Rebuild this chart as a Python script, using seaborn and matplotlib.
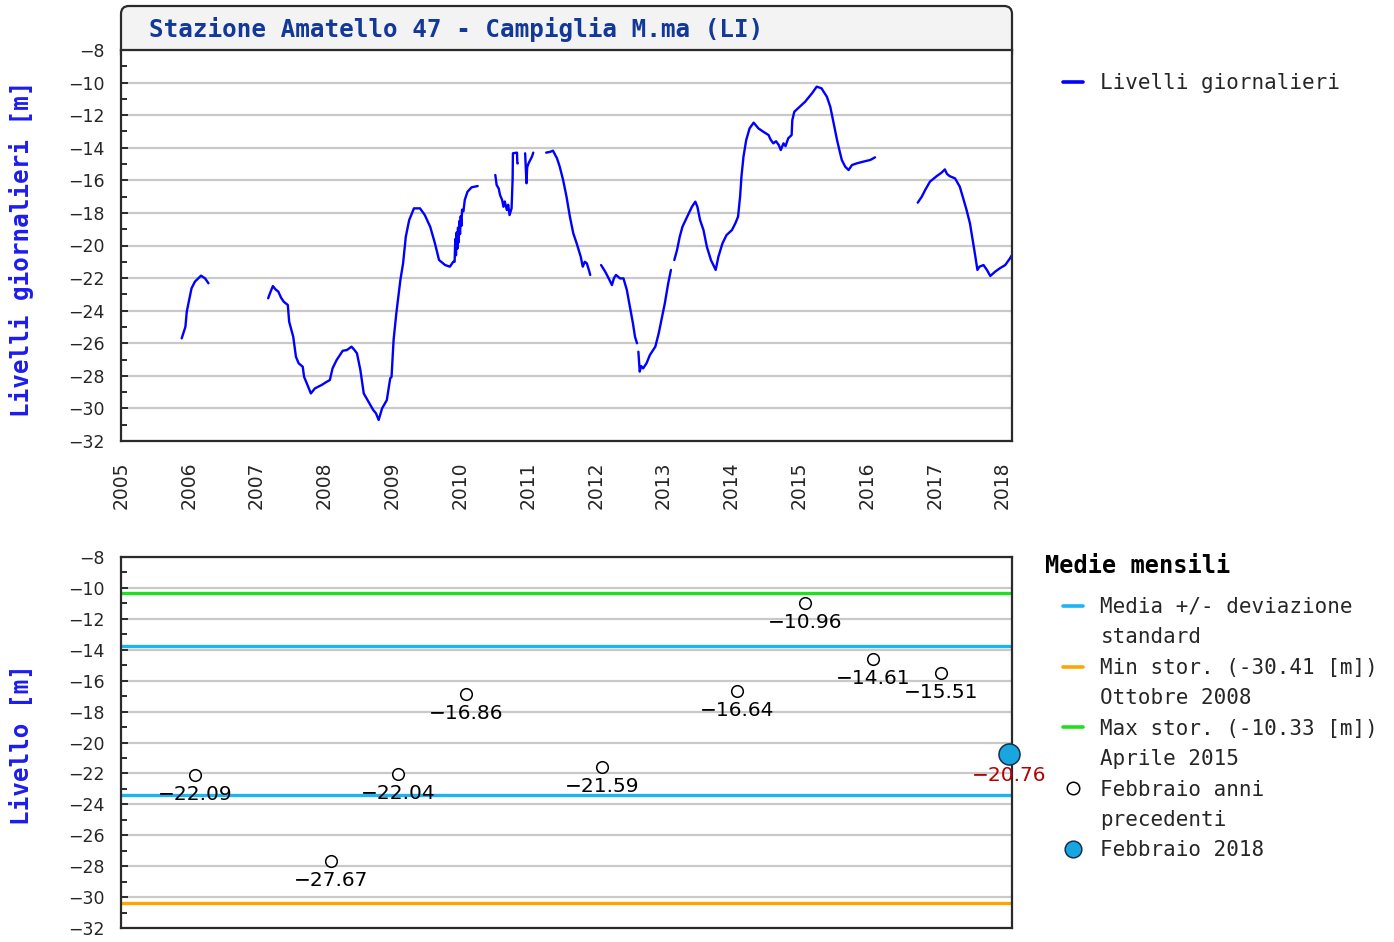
import matplotlib
matplotlib.use("Agg")
import matplotlib.pyplot as plt
import numpy as np
import pandas as pd
import seaborn as sns
from matplotlib.patches import FancyBboxPatch
from matplotlib.lines import Line2D
from matplotlib.ticker import MultipleLocator
from matplotlib.transforms import IdentityTransform

# ---------------------------------------------------------------- data
# Daily groundwater levels [m], split into continuous stretches (decimal years)
t1 = [2005.895, 2005.95, 2005.97, 2006.01, 2006.04, 2006.09, 2006.18, 2006.24, 2006.29]
l1 = [-25.70, -24.99, -24.06, -23.24, -22.63, -22.22, -21.85, -22.02, -22.32]

t2 = [2007.17, 2007.20, 2007.24, 2007.28, 2007.32, 2007.36, 2007.40, 2007.46, 2007.48,
      2007.54, 2007.58, 2007.62, 2007.68, 2007.70, 2007.74, 2007.80, 2007.86, 2007.96,
      2008.02, 2008.08, 2008.12, 2008.18, 2008.27, 2008.33, 2008.40, 2008.44, 2008.48,
      2008.53, 2008.58, 2008.65, 2008.72, 2008.76, 2008.80, 2008.85, 2008.92, 2008.97,
      2008.99, 2009.02, 2009.06, 2009.12, 2009.16, 2009.20, 2009.25, 2009.32, 2009.41,
      2009.48, 2009.56, 2009.63, 2009.69, 2009.78, 2009.85, 2009.90, 2009.92, 2009.93,
      2009.94, 2009.95, 2009.96, 2009.97, 2009.98, 2009.99, 2010.00, 2010.01, 2010.02,
      2010.03, 2010.05, 2010.07, 2010.11, 2010.17, 2010.26]
l2 = [-23.24, -22.90, -22.49, -22.70, -22.83, -23.20, -23.45, -23.65, -24.68,
      -25.60, -26.83, -27.23, -27.44, -28.06, -28.46, -29.08, -28.77, -28.56,
      -28.40, -28.26, -27.54, -27.03, -26.46, -26.42, -26.21, -26.40, -26.62,
      -27.64, -29.08, -29.59, -30.10, -30.30, -30.71, -30.00, -29.49, -28.16,
      -28.06, -25.80, -24.17, -22.12, -21.10, -19.46, -18.44, -17.72, -17.72,
      -18.13, -18.85, -19.87, -20.89, -21.20, -21.30, -21.00, -21.00, -19.60,
      -20.60, -19.20, -20.20, -18.90, -19.80, -18.50, -19.30, -18.20, -18.80,
      -17.80, -17.90, -17.20, -16.70, -16.43, -16.35]

t3 = [2010.52, 2010.54, 2010.57, 2010.59, 2010.62, 2010.64, 2010.66, 2010.69, 2010.71,
      2010.73, 2010.76, 2010.775, 2010.78, 2010.84, 2010.845, 2010.85]
l3 = [-15.67, -16.29, -16.50, -16.90, -17.20, -17.62, -17.30, -17.82, -17.50,
      -18.13, -17.72, -15.98, -14.34, -14.30, -14.96, -14.96]

t4 = [2010.96, 2010.98, 2010.99, 2011.01, 2011.06, 2011.08]
l4 = [-14.34, -16.18, -15.20, -14.96, -14.55, -14.30]

t5 = [2011.27, 2011.33, 2011.37, 2011.43, 2011.47, 2011.52, 2011.57, 2011.62, 2011.67,
      2011.72, 2011.78, 2011.81, 2011.84, 2011.87, 2011.90, 2011.92]
l5 = [-14.30, -14.25, -14.18, -14.65, -15.16, -15.98, -17.00, -18.23, -19.25,
      -19.87, -20.69, -21.30, -21.00, -21.10, -21.50, -21.81]

t6 = [2012.08, 2012.11, 2012.14, 2012.19, 2012.24, 2012.27, 2012.30, 2012.36, 2012.41,
      2012.46, 2012.50, 2012.55, 2012.58, 2012.61]
l6 = [-21.20, -21.40, -21.60, -22.00, -22.43, -22.00, -21.81, -22.02, -22.02,
      -22.73, -23.65, -24.78, -25.60, -26.00]

t7 = [2012.63, 2012.65, 2012.67, 2012.70, 2012.75, 2012.80, 2012.88, 2012.93, 2012.97,
      2013.02, 2013.07, 2013.11]
l7 = [-26.52, -27.74, -27.40, -27.54, -27.23, -26.72, -26.21, -25.39, -24.57,
      -23.55, -22.32, -21.50]

t8 = [2013.16, 2013.20, 2013.24, 2013.28, 2013.35, 2013.42, 2013.47, 2013.50, 2013.54,
      2013.59, 2013.64, 2013.70, 2013.77, 2013.81, 2013.87, 2013.93, 2014.01, 2014.06,
      2014.10, 2014.13, 2014.15, 2014.18, 2014.22, 2014.27, 2014.33, 2014.40, 2014.47,
      2014.55, 2014.58, 2014.62, 2014.66, 2014.70, 2014.73, 2014.77, 2014.80, 2014.84,
      2014.89, 2014.90, 2014.93, 2015.01, 2015.09, 2015.19, 2015.26, 2015.33, 2015.41,
      2015.46, 2015.51, 2015.56, 2015.60, 2015.63, 2015.68, 2015.73, 2015.78, 2015.85,
      2015.95, 2016.05, 2016.12]
l8 = [-20.89, -20.28, -19.46, -18.85, -18.23, -17.62, -17.31, -17.62, -18.44,
      -19.05, -20.08, -20.89, -21.50, -20.69, -19.87, -19.36, -19.05, -18.64,
      -18.23, -17.00, -15.78, -14.55, -13.53, -12.81, -12.46, -12.81, -13.01,
      -13.22, -13.50, -13.73, -13.60, -13.83, -14.14, -13.73, -13.90, -13.42,
      -13.22, -12.30, -11.79, -11.48, -11.17, -10.66, -10.25, -10.35, -10.87,
      -11.48, -12.50, -13.53, -14.24, -14.75, -15.16, -15.37, -15.06, -14.96,
      -14.85, -14.75, -14.59]

t9 = [2016.75, 2016.81, 2016.86, 2016.93, 2017.03, 2017.10, 2017.15, 2017.18, 2017.22,
      2017.30, 2017.37, 2017.42, 2017.47, 2017.52, 2017.56, 2017.60, 2017.63, 2017.66,
      2017.72, 2017.77, 2017.82, 2017.89, 2017.96, 2018.04, 2018.11, 2018.14]
l9 = [-17.37, -17.00, -16.59, -16.08, -15.74, -15.53, -15.33, -15.60, -15.74,
      -15.88, -16.39, -17.10, -17.82, -18.64, -19.66, -20.69, -21.50, -21.30,
      -21.20, -21.50, -21.87, -21.61, -21.40, -21.20, -20.79, -20.58]

# February monthly means of previous years and of the current year
anni_febbraio = [2006, 2008, 2009, 2010, 2012, 2014, 2015, 2016, 2017]
medie_febbraio = [-22.09, -27.67, -22.04, -16.86, -21.59, -16.64, -10.96, -14.61, -15.51]
anno_corrente = 2018
media_corrente = -20.76

# Reference levels for the month
media_piu_ds = -13.75
media_meno_ds = -23.40
min_storico = -30.41
max_storico = -10.33

anni_asse = list(range(2005, 2019))

# ---------------------------------------------------------------- style
sns.set_theme(style="white")
plt.rcParams["font.family"] = ["DejaVu Sans"]
MONO = "DejaVu Sans Mono"

BLU_SERIE = "#0000ff"
BLU_DS = "#1cb4f2"
ARANCIO = "#ffa500"
VERDE = "#1ee01e"
GRIGLIA = "#c9c9c9"
BORDO = "#2a2a2a"

W, H = 1394, 942
fig = plt.figure(figsize=(W / 100, H / 100), dpi=100)

def fx(px):
    return px / W

def fy(py):
    return 1 - py / H

ax1 = fig.add_axes([fx(121), fy(441), fx(1012) - fx(121), fy(50) - fy(441)])
ax2 = fig.add_axes([fx(121), fy(928), fx(1012) - fx(121), fy(557) - fy(928)])

# title strip with rounded top corners
strip = FancyBboxPatch((121, H - 62), 891, 56,
                       boxstyle="round,pad=0,rounding_size=8",
                       transform=IdentityTransform(), facecolor="#f3f3f3",
                       edgecolor=BORDO, linewidth=1.6, zorder=-1)
fig.add_artist(strip)
fig.text(fx(149), fy(30), "Stazione Amatello 47 - Campiglia M.ma (LI)",
         family=MONO, weight="bold", size=17.5, color="#12399a",
         ha="left", va="center")

# ---------------------------------------------------------------- daily levels
tratti = [(t1, l1), (t2, l2), (t3, l3), (t4, l4), (t5, l5),
          (t6, l6), (t7, l7), (t8, l8), (t9, l9)]
serie = pd.concat([pd.DataFrame({"anno": t, "livello": l, "tratto": i})
                   for i, (t, l) in enumerate(tratti)], ignore_index=True)

sns.lineplot(data=serie, x="anno", y="livello", units="tratto", estimator=None,
             color=BLU_SERIE, linewidth=1.7, ax=ax1, legend=False)

# ---------------------------------------------------------------- monthly means
x_feb = [a + 1.1 / 12 for a in anni_febbraio]
x_cur = anno_corrente + 1.1 / 12

for y, c in [(max_storico, VERDE), (media_piu_ds, BLU_DS),
             (media_meno_ds, BLU_DS), (min_storico, ARANCIO)]:
    ax2.axhline(y, color=c, linewidth=2.4, zorder=2)

sns.scatterplot(x=x_feb, y=medie_febbraio, ax=ax2, s=70, color="white",
                edgecolor="black", linewidth=1.1, zorder=5, legend=False)
sns.scatterplot(x=[x_cur], y=[media_corrente], ax=ax2, s=230, color="#17a6df",
                edgecolor="#1b2f4a", linewidth=1.1, zorder=6, legend=False,
                clip_on=False)

for x, v in zip(x_feb, medie_febbraio):
    ax2.annotate(f"{v:.2f}".replace("-", "\u2212"), (x, v), xytext=(0, -14),
                 textcoords="offset points", ha="center", va="center",
                 fontsize=14.5, color="black", zorder=7)
ax2.annotate(f"{media_corrente:.2f}".replace("-", "\u2212"), (x_cur, media_corrente),
             xytext=(0, -15), textcoords="offset points", ha="center", va="center",
             fontsize=14.5, color="#b30000", zorder=7, annotation_clip=False)

# ---------------------------------------------------------------- axes
for ax in (ax1, ax2):
    ax.set_xlim(2005, 2018.14)
    ax.set_ylim(-32, -8)
    ax.set_yticks(np.arange(-32, -7, 2))
    ax.yaxis.set_minor_locator(MultipleLocator(1))
    ax.set_xlabel("")
    ax.set_ylabel("")
    ax.set_facecolor("white")
    ax.set_axisbelow(True)
    ax.yaxis.grid(True, which="major", color=GRIGLIA, linewidth=1.6)
    ax.xaxis.grid(False)
    ax.tick_params(axis="y", which="both", direction="in", left=True,
                   color=BORDO, width=1.4, labelsize=12.5, pad=12)
    ax.tick_params(axis="y", which="major", length=5)
    ax.tick_params(axis="y", which="minor", length=4)
    for s in ax.spines.values():
        s.set_color(BORDO)
        s.set_linewidth(1.6)
        s.set_visible(True)

ax1.set_xticks(anni_asse)
ax1.set_xticklabels([str(a) for a in anni_asse], rotation=90)
ax1.tick_params(axis="x", length=0, labelsize=13.5, pad=15)
ax2.set_xticks([])

fig.text(fx(22), fy(249), "Livelli giornalieri [m]", rotation=90, family=MONO,
         weight="bold", size=17.5, color="#1c1cf0", ha="center", va="center")
fig.text(fx(22), fy(745), "Livello [m]", rotation=90, family=MONO,
         weight="bold", size=17.5, color="#1c1cf0", ha="center", va="center")

# ---------------------------------------------------------------- legends
ax1.legend(handles=[Line2D([], [], color=BLU_SERIE, linewidth=2.6)],
           labels=["Livelli giornalieri"], loc="upper left",
           bbox_to_anchor=(fx(1063), fy(73)), bbox_transform=fig.transFigure,
           frameon=False, prop={"family": MONO, "size": 15},
           handlelength=0.95, handletextpad=0.85, borderpad=0,
           borderaxespad=0)

fig.text(fx(1045), fy(566), "Medie mensili", family=MONO, weight="bold",
         size=17, color="black", ha="left", va="center")

vuoto = Line2D([], [], linestyle="none")
maniglie = [
    Line2D([], [], color=BLU_DS, linewidth=2.6), vuoto,
    Line2D([], [], color=ARANCIO, linewidth=2.6), vuoto,
    Line2D([], [], color=VERDE, linewidth=2.6), vuoto,
    Line2D([], [], linestyle="none", marker="o", markersize=9,
           markerfacecolor="white", markeredgecolor="black", markeredgewidth=1.1), vuoto,
    Line2D([], [], linestyle="none", marker="o", markersize=12,
           markerfacecolor="#17a6df", markeredgecolor="#1b2f4a", markeredgewidth=1.1),
]
etichette = [
    "Media +/- deviazione", "standard",
    f"Min stor. ({min_storico:.2f} [m])", "Ottobre 2008",
    f"Max stor. ({max_storico:.2f} [m])", "Aprile 2015",
    "Febbraio anni", "precedenti",
    f"Febbraio {anno_corrente}",
]
ax2.legend(handles=maniglie, labels=etichette, loc="upper left",
           bbox_to_anchor=(fx(1063), fy(597)), bbox_transform=fig.transFigure,
           frameon=False, prop={"family": MONO, "size": 15},
           handlelength=0.95, handletextpad=0.85, borderpad=0,
           borderaxespad=0, labelspacing=0.5)

fig.savefig("out.png", dpi=100)
